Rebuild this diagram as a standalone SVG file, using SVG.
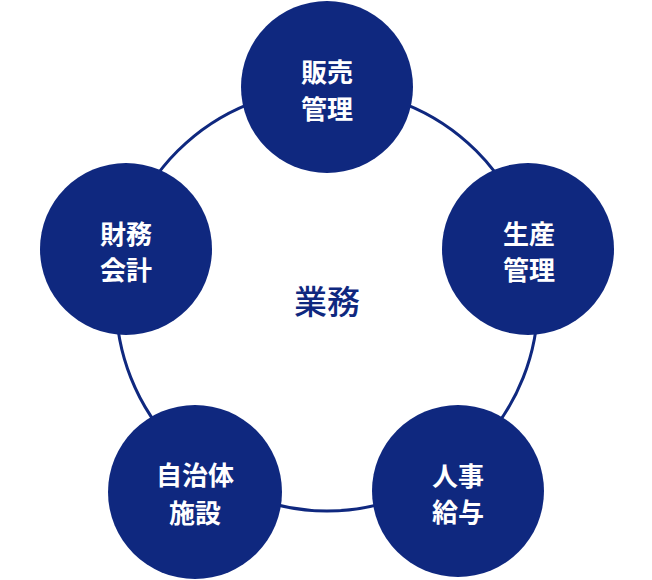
<svg xmlns="http://www.w3.org/2000/svg" width="652" height="580" viewBox="0 0 652 580">
<style>
.ring{fill:none;stroke:#0f287f;stroke-width:3}
.node{fill:#0f287f}
.lbl{fill:#ffffff;font-family:"Noto Sans CJK JP","Noto Sans",sans-serif;font-size:26px;font-weight:700;text-anchor:middle;dominant-baseline:central}
.center{fill:#0f287f;font-family:"Noto Sans CJK JP","Noto Sans",sans-serif;font-size:33px;font-weight:500;text-anchor:middle;dominant-baseline:central}
</style>
<rect width="652" height="580" fill="#ffffff"/>
<g id="connectors">
<circle class="ring" cx="327" cy="300" r="211"/>
</g>
<g id="center">
<text class="center" x="327" y="300">業務</text>
</g>
<g id="node-sales">
<circle class="node" cx="327" cy="87" r="86"/>
<text class="lbl" x="327" y="70">販売</text>
<text class="lbl" x="327" y="107">管理</text>
</g>
<g id="node-production">
<circle class="node" cx="528" cy="249" r="86"/>
<text class="lbl" x="529" y="232">生産</text>
<text class="lbl" x="529" y="268">管理</text>
</g>
<g id="node-hr">
<circle class="node" cx="458" cy="491" r="86"/>
<text class="lbl" x="458" y="474">人事</text>
<text class="lbl" x="458" y="510">給与</text>
</g>
<g id="node-facility">
<circle class="node" cx="195" cy="492" r="87"/>
<text class="lbl" x="195" y="473">自治体</text>
<text class="lbl" x="195" y="511">施設</text>
</g>
<g id="node-finance">
<circle class="node" cx="126" cy="249" r="86"/>
<text class="lbl" x="126" y="232">財務</text>
<text class="lbl" x="126" y="268">会計</text>
</g>
</svg>
